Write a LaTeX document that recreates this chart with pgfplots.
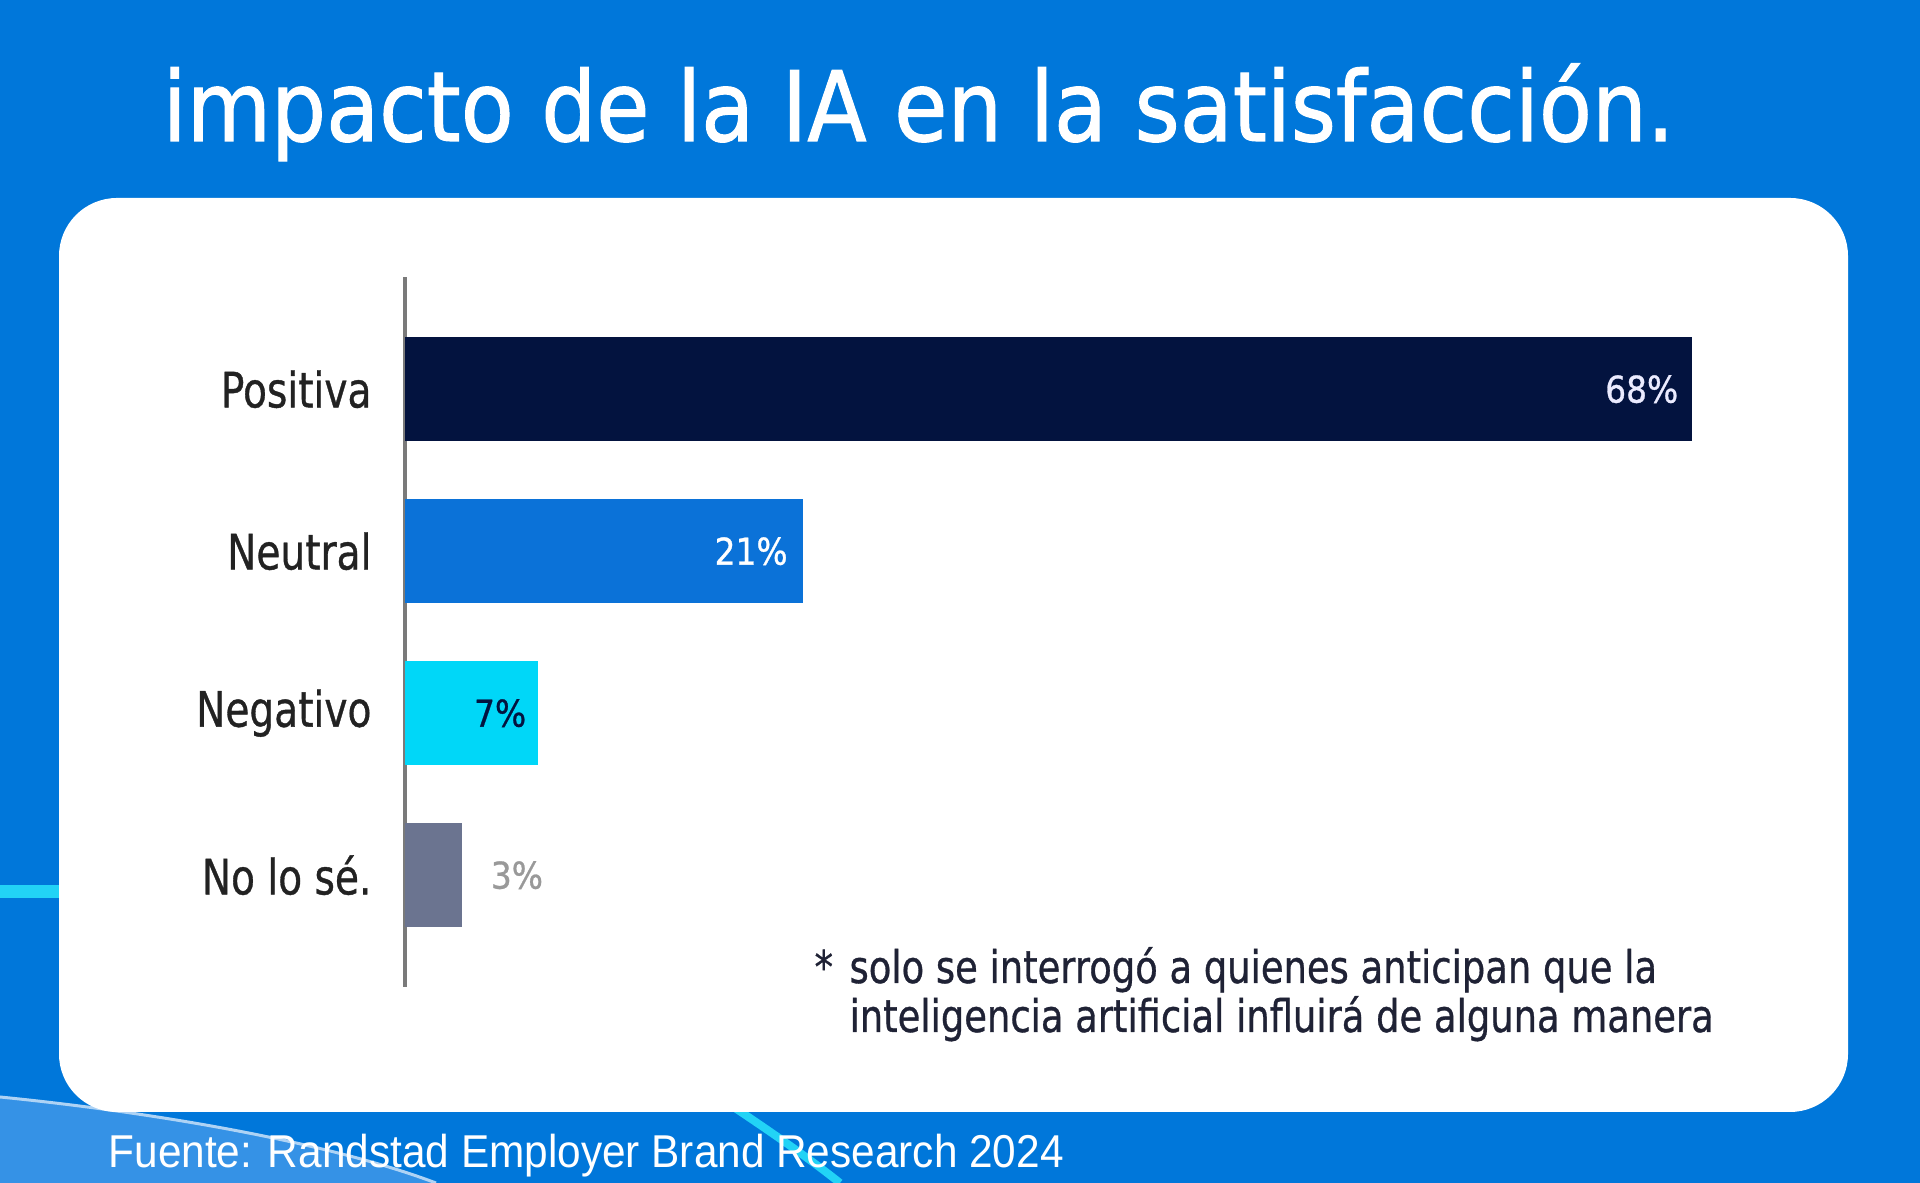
\documentclass[border=0pt]{standalone}
\usepackage{fontspec}
\setmainfont{DejaVu Sans}
\newfontfamily\arialf{Liberation Sans}
\newfontfamily\titlef[FakeBold=1.2]{DejaVu Sans}
\newfontfamily\labf[FakeBold=0.8]{DejaVu Sans}
\usepackage{pgfplots}
\pgfplotsset{compat=1.18}

\definecolor{bgblue}{HTML}{0077DA}
\definecolor{lightbg}{HTML}{3592E6}
\definecolor{cyanline}{HTML}{22D3F6}
\definecolor{cpos}{HTML}{03133F}
\definecolor{cneu}{HTML}{0B72D8}
\definecolor{cneg}{HTML}{00D7F8}
\definecolor{cnol}{HTML}{6B7490}
\definecolor{labgray}{HTML}{222222}
\definecolor{notecol}{HTML}{1F2235}

\begin{document}
\begin{tikzpicture}
% background, 1 unit = 1 px of the 1920x1183 reference
\begin{scope}[x=0.1mm,y=0.1mm]
  \useasboundingbox (0,0) rectangle (1920,1183);
  \fill[bgblue] (0,0) rectangle (1920,1183);
  \fill[lightbg] (0,86) .. controls (160,70) and (330,40) .. (436,0) -- (0,0) -- cycle;
  \draw[white!60!lightbg, line width=0.3mm] (0,86) .. controls (160,70) and (330,40) .. (436,0);
  \draw[cyanline, line width=1.3mm] (0,291) -- (70,291);
  \draw[cyanline, line width=0.8mm] (735,75) .. controls (780,45) and (815,20) .. (840,0);
  \fill[white, rounded corners=5.8mm] (59,71) rectangle (1848,985);
  % title
  \node[anchor=base west, inner sep=0, text=white, xscale=0.893,
        font=\titlef\fontsize{27.6pt}{33pt}\selectfont] at (162,1042)
        {impacto de la IA en la satisfacción.};
  % footnote
  \begin{scope}[every node/.style={anchor=base west, inner sep=0, text=notecol,
        xscale=0.82, font=\labf\fontsize{12.8pt}{15pt}\selectfont}]
    \node at (814,200) {*};
    \node at (849,200) {solo se interrogó a quienes anticipan que la};
    \node at (849,151) {inteligencia artificial influirá de alguna manera};
  \end{scope}
  % source
  \node[anchor=base west, inner sep=0, text=white, xscale=0.92,
        font=\arialf\fontsize{13.1pt}{15pt}\selectfont] at (108,15)
        {Fuente: Randstad Employer Brand Research 2024};
\end{scope}

\begin{axis}[
    at={(40.5mm,19.6mm)}, anchor=south west,
    xbar, bar width=10.4mm, bar shift=0pt,
    x=1.893mm, y=16.2mm,
    xmin=0, xmax=75, ymin=-0.69, ymax=3.69,
    axis x line=none,
    axis y line=left,
    y axis line style={-, draw=black!52, line width=0.35mm},
    xtick=\empty,
    ytick={0,1,2,3},
    yticklabels={No lo sé., Negativo, Neutral, Positiva},
    major tick length=0pt,
    yticklabel style={anchor=east, inner sep=0pt, xshift=-3.3mm, xscale=0.8,
        text=labgray, font=\labf\fontsize{13.9pt}{16pt}\selectfont},
    point meta=x,
    nodes near coords={\pgfmathprintnumber{\pgfplotspointmeta}\%},
    /pgf/number format/assume math mode=true,
    every node near coord/.append style={font=\labf\fontsize{10.5pt}{12pt}\selectfont,
        inner sep=0pt, xscale=0.89},
]
\addplot[fill=cpos, draw=none,
    every node near coord/.append style={anchor=east, xshift=-1.5mm, text=white!92!blue}]
    coordinates {(68,3)};
\addplot[fill=cneu, draw=none,
    every node near coord/.append style={anchor=east, xshift=-1.6mm, text=white}]
    coordinates {(21,2)};
\addplot[fill=cneg, draw=none,
    every node near coord/.append style={anchor=east, xshift=-1.2mm, text=cpos}]
    coordinates {(7,1)};
\addplot[fill=cnol, draw=none,
    every node near coord/.append style={anchor=west, xshift=3.2mm, text=black!40}]
    coordinates {(3,0)};
\end{axis}
\end{tikzpicture}
\end{document}
